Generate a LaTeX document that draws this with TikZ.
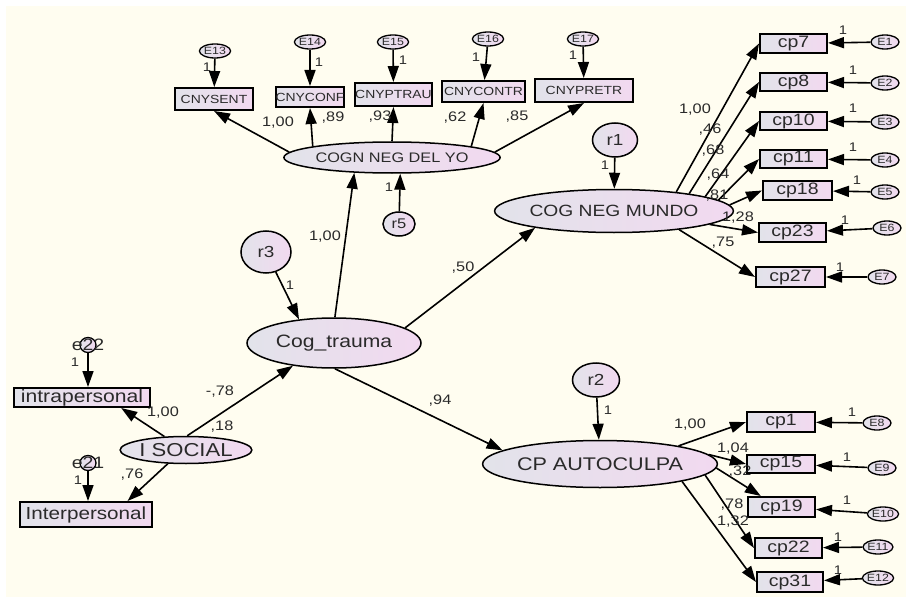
\documentclass[tikz,border=0pt]{standalone}
\usepackage{fontspec}
\setmainfont[FakeStretch=1.18]{Liberation Sans}
\usetikzlibrary{arrows.meta,shapes.geometric}
\definecolor{cream}{HTML}{FFFDF0}
\definecolor{shadeL}{HTML}{E2E3EA}
\definecolor{shadeR}{HTML}{F2D9F0}
\definecolor{ink}{HTML}{2A2A2A}
\newcommand{\fsz}[1]{\fontsize{#1}{#1}\selectfont}
\begin{document}
\begin{tikzpicture}[x=1pt,y=-1pt,
  latv/.style={ellipse, draw=black, line width=1.5pt, left color=shadeL, right color=shadeR, inner sep=0pt, text=ink},
  obsv/.style={rectangle, draw=black, line width=2pt, left color=shadeL, right color=shadeR, inner sep=0pt, text=ink},
  errv/.style={ellipse, draw=black, line width=1.3pt, left color=shadeL, right color=shadeR, inner sep=0pt,
               minimum width=28pt, minimum height=14pt, font=\fsz{10.5}, text=ink},
  cnyv/.style={obsv, minimum height=21pt, font=\fsz{11.8}},
  cpv/.style={obsv, minimum width=67pt, minimum height=19pt, font=\fsz{16.5}},
  arrw/.style={draw=black, line width=1.6pt, -{Triangle[length=16pt,width=11pt]}},
  coefl/.style={font=\fsz{13.8}, text=ink, inner sep=0pt},
  onel/.style={font=\fsz{12.5}, text=ink, inner sep=0pt}]

% canvas
\useasboundingbox (0,0) rectangle (906,602);
\fill[white] (0,0) rectangle (906,602);
\fill[cream] (6,6) rectangle (906,597);

% latent variables
\node[latv, minimum width=180pt, minimum height=31pt, font=\fsz{13.8}] (cogn) at (392,157.5) {COGN NEG DEL YO};
\node[latv, minimum width=182pt, minimum height=43pt, font=\fsz{16.3}] (mundo) at (614,211) {COG NEG MUNDO};
\node[latv, minimum width=174pt, minimum height=50pt, font=\fsz{17.9}] (cog) at (334,343) {Cog\_trauma};
\node[latv, minimum width=180pt, minimum height=47pt, font=\fsz{18.3}] (auto) at (600,464) {CP AUTOCULPA};
\node[latv, minimum width=105pt, minimum height=27pt, font=\fsz{18.7}] (isoc) at (186,450) {I SOCIAL};

% disturbances
\node[latv, minimum width=45pt, minimum height=34pt, font=\fsz{16}] (r1) at (615,140) {r1};
\node[latv, minimum width=47pt, minimum height=34pt, font=\fsz{16}] (r2) at (596,380) {r2};
\node[latv, minimum width=50pt, minimum height=42pt, font=\fsz{16}] (r3) at (266,252) {r3};
\node[latv, minimum width=32pt, minimum height=24pt, font=\fsz{14}] (r5) at (399,224) {r5};

% indicators of COGN NEG DEL YO
\node[cnyv, minimum width=78pt, minimum height=22pt] (cnysent) at (214,99) {CNYSENT};
\node[cnyv, minimum width=66pt, minimum height=20pt] (cnyconf) at (310,97) {CNYCONF};
\node[cnyv, minimum width=73pt, minimum height=23pt] (cnyptrau) at (393.5,94.5) {CNYPTRAU};
\node[cnyv, minimum width=83pt] (cnycontr) at (483.5,91.5) {CNYCONTR};
\node[cnyv, minimum width=98pt, minimum height=23pt] (cnypretr) at (584,90.5) {CNYPRETR};

% indicators of COG NEG MUNDO
\node[cpv] (cp7) at (793.5,43.5) {cp7};
\node[cpv, minimum height=18pt] (cp8) at (793.5,82) {cp8};
\node[cpv, minimum height=18pt] (cp10) at (793.5,121) {cp10};
\node[cpv, minimum height=18pt] (cp11) at (793.5,159) {cp11};
\node[cpv, minimum width=69pt] (cp18) at (797.5,190.5) {cp18};
\node[cpv] (cp23) at (792.5,232.5) {cp23};
\node[cpv, minimum width=69pt, minimum height=20pt] (cp27) at (790.5,277) {cp27};

% indicators of CP AUTOCULPA
\node[cpv, minimum width=68pt, minimum height=20pt] (cp1) at (781,422) {cp1};
\node[cpv, minimum width=68pt, minimum height=18pt] (cp15) at (781,464) {cp15};
\node[cpv, minimum height=20pt] (cp19) at (781.5,507) {cp19};
\node[cpv, minimum height=20pt] (cp22) at (788.5,548) {cp22};
\node[cpv, minimum width=66pt, minimum height=20pt] (cp31) at (790,582) {cp31};

% indicators of I SOCIAL
\node[obsv, minimum width=136pt, minimum height=19pt, font=\fsz{17.9}] (intra) at (82,397.5) {intrapersonal};
\node[obsv, minimum width=132pt, minimum height=25pt, font=\fsz{17.5}] (inter) at (86,514.5) {Interpersonal};

% measurement errors
\node[errv, minimum width=30pt] (E13) at (215,51) {E13};
\node[errv, minimum width=30pt] (E14) at (310,42) {E14};
\node[errv, minimum width=30pt] (E15) at (393,42) {E15};
\node[errv, minimum width=30pt] (E16) at (488,39) {E16};
\node[errv, minimum width=30pt] (E17) at (583,39) {E17};
\node[errv] (E1) at (885,42) {E1};
\node[errv] (E2) at (885,83) {E2};
\node[errv] (E3) at (885,122) {E3};
\node[errv] (E4) at (885,160) {E4};
\node[errv] (E5) at (885,192) {E5};
\node[errv] (E6) at (887,228) {E6};
\node[errv] (E7) at (882,277) {E7};
\node[errv] (E8) at (877,423) {E8};
\node[errv] (E9) at (882,468) {E9};
\node[errv] (E10) at (883,514) {E10};
\node[errv] (E11) at (878,547) {E11};
\node[errv] (E12) at (878,578) {E12};
\node[errv, minimum width=16pt, minimum height=15pt, label={[font=\fsz{16.5}, text=ink, inner sep=0pt]center:e22}] (e22) at (88,345) {};
\node[errv, minimum width=16pt, minimum height=15pt, label={[font=\fsz{16.5}, text=ink, inner sep=0pt]center:e21}] (e21) at (88,463) {};

% structural paths
\draw[arrw] (cog.88) -- (cogn.202);
\draw[arrw] (cog.12) -- (mundo.192);
\draw[arrw] (cog.272) -- (auto.172);
\draw[arrw] (isoc.85) -- (cog.209);
\draw[arrw] (r1) -- (mundo);
\draw[arrw] (r2) -- (auto);
\draw[arrw] (r3.296) -- (cog.146);
\draw[arrw] (r5) -- (cogn.297);

% loadings
\draw[arrw] (cogn.177) -- (cnysent.south);
\draw[arrw] (cogn.172) -- (cnyconf.south);
\draw[arrw] (cogn.north) -- (cnyptrau.south);
\draw[arrw] (cogn.8) -- (cnycontr.south);
\draw[arrw] (cogn.3) -- (cnypretr.south);

\draw[arrw] (mundo.17) -- (cp7.west);
\draw[arrw] (mundo.13) -- (cp8.west);
\draw[arrw] (mundo.9) -- (cp10.west);
\draw[arrw] (mundo.6) -- (cp11.west);
\draw[arrw] (mundo.3) -- (cp18.west);
\draw[arrw] (mundo.352) -- (cp23.west);
\draw[arrw] (mundo.344) -- (cp27.west);

\draw[arrw] (auto.13) -- (cp1.west);
\draw[arrw] (auto.5) -- (cp15.west);
\draw[arrw] (auto.358) -- (cp19.152);
\draw[arrw] (auto.354) -- (cp22.west);
\draw[arrw] (auto.348) -- (cp31.west);

\draw[arrw] (isoc.148) -- (intra.345);
\draw[arrw] (isoc.217) -- (inter.18);

% error paths
\draw[arrw] (E13) -- (cnysent);
\draw[arrw] (E14) -- (cnyconf);
\draw[arrw] (E15) -- (cnyptrau);
\draw[arrw] (E16) -- (cnycontr);
\draw[arrw] (E17) -- (cnypretr);
\draw[arrw] (E1) -- (cp7);
\draw[arrw] (E2) -- (cp8);
\draw[arrw] (E3) -- (cp10);
\draw[arrw] (E4) -- (cp11);
\draw[arrw] (E5) -- (cp18);
\draw[arrw] (E6) -- (cp23);
\draw[arrw] (E7) -- (cp27);
\draw[arrw] (E8) -- (cp1);
\draw[arrw] (E9) -- (cp15);
\draw[arrw] (E10) -- (cp19);
\draw[arrw] (E11) -- (cp22);
\draw[arrw] (E12) -- (cp31);
\draw[arrw] (e22) -- (e22 |- intra.north);
\draw[arrw] (e21) -- (e21 |- inter.north);

% coefficients
\node[coefl] (k1) at (278,123) {1,00};
\node[coefl] (k2) at (333,118) {,89};
\node[coefl] (k3) at (380,117) {,93};
\node[coefl] (k4) at (455,118) {,62};
\node[coefl] (k5) at (517,117) {,85};
\node[coefl] (k6) at (325,237) {1,00};
\node[coefl] (k7) at (463,268) {,50};
\node[coefl] (k8) at (440,401) {,94};
\node[coefl] (k9) at (695,110) {1,00};
\node[coefl] (k10) at (710,130) {,46};
\node[coefl] (k11) at (713,151) {,68};
\node[coefl] (k12) at (718,175) {,64};
\node[coefl] (k13) at (717,196) {,81};
\node[coefl] (k14) at (738,218) {1,28};
\node[coefl] (k15) at (723,243) {,75};
\node[coefl] (k16) at (690,425) {1,00};
\node[coefl] (k17) at (733,449) {1,04};
\node[coefl] (k18) at (740,472) {,32};
\node[coefl] (k19) at (732,505) {,78};
\node[coefl] (k20) at (733,522) {1,32};
\node[coefl] (k21) at (220,392) {-,78};
\node[coefl] (k22) at (222,427) {,18};
\node[coefl] (k23) at (163,413) {1,00};
\node[coefl] (k24) at (132,475) {,76};

% fixed unit weights
\node[onel] (u1) at (207,67) {1};
\node[onel] (u2) at (319,62) {1};
\node[onel] (u3) at (403,60) {1};
\node[onel] (u4) at (476,57) {1};
\node[onel] (u5) at (573,55) {1};
\node[onel] (u6) at (389,187) {1};
\node[onel] (u7) at (290,285) {1};
\node[onel] (u8) at (605,165) {1};
\node[onel] (u9) at (608,410) {1};
\node[onel] (u10) at (843,30) {1};
\node[onel] (u11) at (853,70) {1};
\node[onel] (u12) at (853,108) {1};
\node[onel] (u13) at (853,147) {1};
\node[onel] (u14) at (857,180) {1};
\node[onel] (u15) at (845,220) {1};
\node[onel] (u16) at (840,267) {1};
\node[onel] (u17) at (852,412) {1};
\node[onel] (u18) at (847,457) {1};
\node[onel] (u19) at (847,500) {1};
\node[onel] (u20) at (838,537) {1};
\node[onel] (u21) at (838,570) {1};
\node[onel] (u22) at (75,362) {1};
\node[onel] (u23) at (78,480) {1};
\end{tikzpicture}
\end{document}
